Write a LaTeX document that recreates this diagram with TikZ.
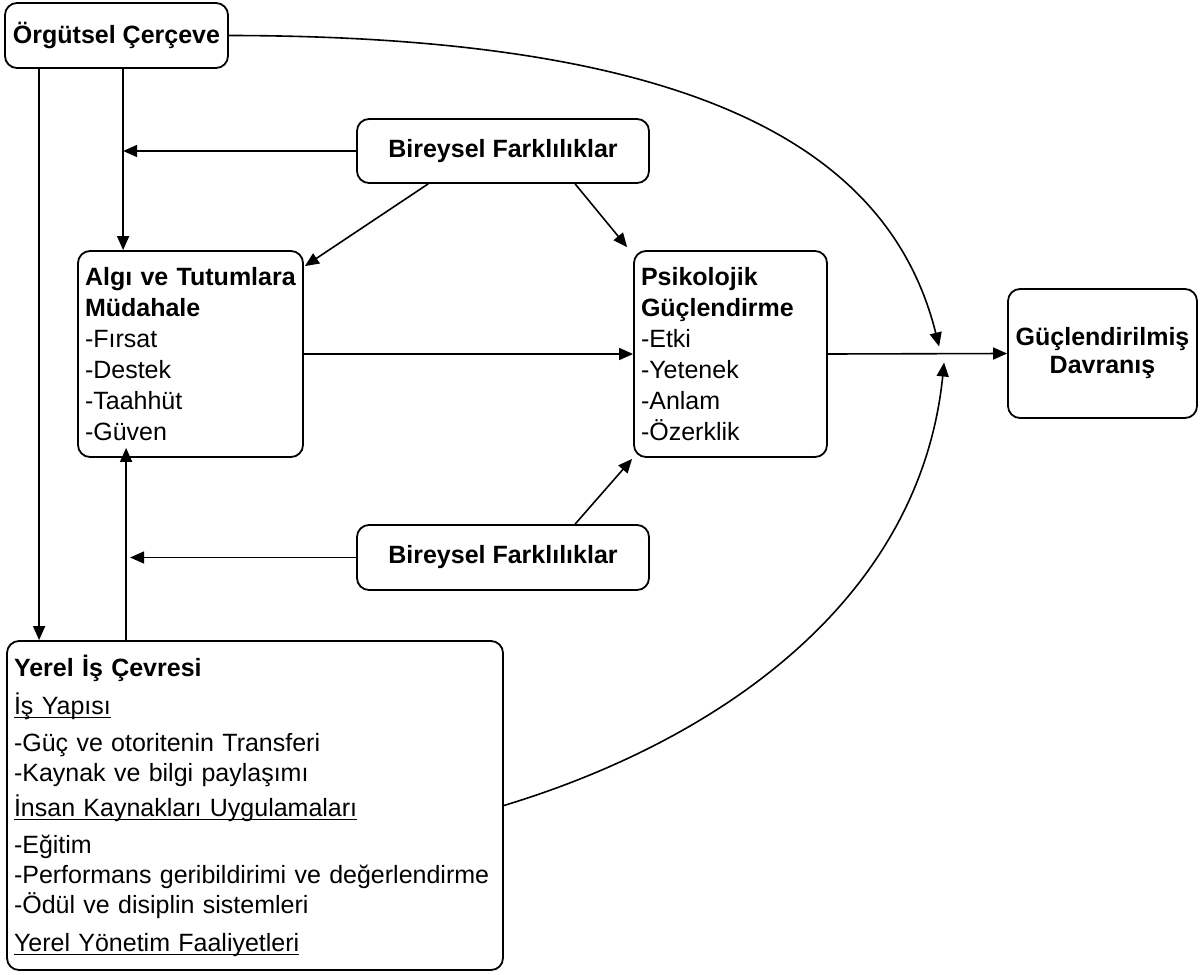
\documentclass[tikz,border=0pt]{standalone}
\usepackage{fontspec}
\setmainfont{Liberation Sans}
\usetikzlibrary{arrows.meta, calc}

% underline close to the baseline
\newcommand{\undl}[1]{\leavevmode\setbox0\hbox{#1}\rlap{\rule[-2pt]{\wd0}{0.6pt}}\box0}

\begin{document}
\begin{tikzpicture}[
    x=0.5pt, y=-0.5pt,
    box/.style={draw, rectangle, rounded corners=6pt, line width=0.9pt, align=center, inner sep=0pt, font=\fontsize{12.5}{14}\selectfont\bfseries},
    listbox/.style={draw, rectangle, rounded corners=6pt, line width=0.9pt, align=left, inner xsep=3.5pt, inner ysep=0pt, font=\fontsize{12.5}{15.5}\selectfont},
    arrow/.style={-{Triangle[length=7pt, width=6pt]}, line width=0.8pt}
]
\useasboundingbox (0,0) rectangle (1203,974);

% Boxes
\node[box, minimum width=111.5pt, minimum height=32.5pt] (org) at (116.5,35.5) {Örgütsel Çerçeve};
\node[box, minimum width=146pt, minimum height=32pt] (bf1) at (503,151) {Bireysel Farklılıklar};
\node[listbox, text width=105.5pt, minimum height=103pt] (algi) at (190.5,354) {\textbf{Algı ve Tutumlara}\\ \textbf{Müdahale}\\ -Fırsat\\ -Destek\\ -Taahhüt\\ -Güven};
\node[listbox, text width=89.5pt, minimum height=103pt] (psi) at (730.5,354) {\textbf{Psikolojik}\\ \textbf{Güçlendirme}\\ -Etki\\ -Yetenek\\ -Anlam\\ -Özerklik};
\node[box, minimum width=94.5pt, minimum height=64.5pt] (guc) at (1102.5,353.5) {Güçlendirilmiş\\ Davranış};
\node[box, minimum width=146pt, minimum height=32.5pt] (bf2) at (503,557.5) {Bireysel Farklılıklar};
\node[listbox, text width=241pt, minimum height=164.5pt, font=\fontsize{12.5}{15}\selectfont] (yerel) at (255,805.5) {\textbf{Yerel İş Çevresi}\\[4pt]
    \undl{İş Yapısı}\\[3.5pt]
    -Güç ve otoritenin Transferi\\
    -Kaynak ve bilgi paylaşımı\\[2.5pt]
    \undl{İnsan Kaynakları Uygulamaları}\\[3.5pt]
    -Eğitim\\
    -Performans geribildirimi ve değerlendirme\\
    -Ödül ve disiplin sistemleri\\[4pt]
    \undl{Yerel Yönetim Faaliyetleri}};

% Vertical feeds
\coordinate (xa) at ($(org.south west)+(35,0)$);
\coordinate (xb) at ($(org.south west)+(119,0)$);
\coordinate (xc) at ($(yerel.north west)+(120,0)$);
\draw[arrow] (xa) -- (xa |- yerel.north);
\draw[arrow] (xb) -- (xb |- algi.north);
\draw[arrow] (xc) -- ($(xc |- algi.south)+(0,-10)$);

% Individual differences
\draw[arrow] (bf1.west) -- (bf1.west -| xb);
\draw[arrow] ($(bf1.south west)+(72,0)$) -- ($(algi.north east)+(1,16)$);
\draw[arrow] ($(bf1.south west)+(219,0)$) -- ($(psi.north west)+(-6,-3)$);
\draw[arrow] (bf2.west) -- ($(bf2.west -| xc)+(4,0)$);
\draw[arrow] ($(bf2.north west)+(219,0)$) -- ($(psi.south west)+(-1,1)$);

% Main chain
\draw[arrow] (algi.east) -- (psi.west);
\draw[arrow] (psi.east) -- (guc.west);

% Curved links
\coordinate (tipA) at ($(guc.west)+(-68,-7)$);
\coordinate (tipB) at ($(guc.west)+(-63,9)$);
\draw[arrow] (org.east) .. controls (700,36) and (890,150) .. (tipA);
\draw[arrow] (yerel.east) .. controls (720,740) and (920,600) .. (tipB);

\end{tikzpicture}
\end{document}
